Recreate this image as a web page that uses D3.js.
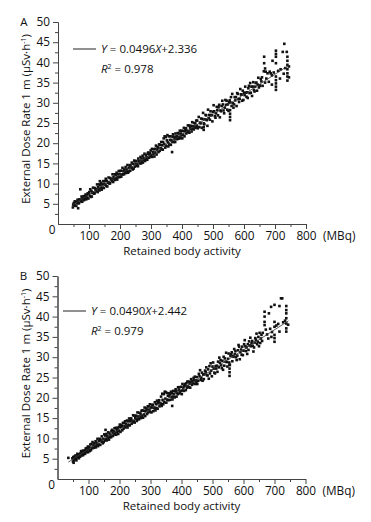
<!DOCTYPE html>
<html>
<head>
<meta charset="utf-8">
<script src="https://cdn.jsdelivr.net/npm/d3@7"></script>
<style>
body { margin: 0; background: #fff; }
text { font-family: "Open Sans", sans-serif; fill: #111; }
.axis path, .axis line { stroke: #444; }
.axis text { font-family: "Open Sans", sans-serif; font-size: 11.8px; fill: #111; }
</style>
</head>
<body>
<div class="chart"></div>
<script>
// tick values
var activityTicks = [100, 200, 300, 400, 500, 600, 700, 800];
var activityMinor = [50, 150, 250, 350, 450, 550, 650, 750];
var doseTicks = [5, 10, 15, 20, 25, 30, 35, 40, 45, 50];
var doseMinor = [2.5, 7.5, 12.5, 17.5, 22.5, 27.5, 32.5, 37.5, 42.5, 47.5];

// fitted lines [slope, intercept], R2 and drawn range
var fitA = [0.0496, 2.336];
var r2A = 0.978;
var fitRangeA = [48, 745];
var fitB = [0.0490, 2.442];
var r2B = 0.979;
var fitRangeB = [35, 745];

// panel A: [retained activity (MBq), dose rate (uSv/h)]
var pointsA = [
  [48,4.1],[49,4.8],[51,5.2],[53,4.7],[54,5.6],[56,4.5],[58,5.5],[59,4.5],[61,5.2],[63,6.0],
  [64,5.4],[66,5.1],[65,3.9],[68,5.2],[69,6.1],[71,5.9],[72,8.6],[73,6.0],[74,5.6],[76,6.8],
  [78,5.5],[79,6.4],[81,6.1],[83,6.9],[84,5.9],[86,6.8],[88,6.5],[89,7.3],[91,6.1],[93,7.1],
  [94,6.5],[96,7.6],[98,6.3],[99,7.4],[101,7.9],[103,7.0],[104,8.6],[106,6.7],[108,8.2],[109,6.8],
  [111,7.7],[113,9.0],[114,7.8],[116,7.5],[118,7.6],[119,8.9],[121,8.5],[123,8.6],[124,8.1],[126,9.8],
  [128,7.9],[129,9.1],[131,8.6],[133,9.8],[134,8.3],[136,9.6],[135,10.6],[138,8.9],[139,10.2],[141,8.5],
  [143,9.8],[144,9.0],[146,10.6],[148,8.9],[149,9.9],[151,10.6],[153,9.7],[154,11.2],[156,9.4],[158,10.7],
  [159,9.3],[161,10.2],[163,11.5],[164,10.3],[166,10.0],[168,10.1],[169,11.4],[171,11.0],[173,11.1],[174,10.6],
  [176,12.3],[178,10.4],[179,11.6],[181,11.1],[183,12.3],[184,10.9],[186,12.1],[188,11.4],[189,12.7],[191,11.0],
  [193,12.3],[194,11.6],[196,13.1],[198,11.6],[199,13.1],[201,12.3],[203,13.2],[204,11.7],[206,12.3],[208,13.9],
  [209,12.3],[211,13.1],[213,12.3],[214,13.5],[216,12.9],[218,14.1],[219,12.6],[221,13.5],[223,13.1],[224,14.6],
  [226,12.7],[228,13.9],[229,13.0],[231,14.5],[233,13.2],[234,14.6],[236,14.0],[238,15.2],[239,13.9],[241,13.5],
  [243,14.9],[244,13.7],[246,15.7],[248,14.2],[249,15.5],[251,14.8],[253,15.6],[254,14.4],[256,14.9],[258,14.3],
  [259,16.2],[261,15.6],[263,15.6],[264,15.0],[266,16.6],[268,15.0],[269,16.2],[271,15.5],[273,16.9],[274,15.2],
  [276,16.3],[278,15.9],[279,17.4],[281,15.6],[283,17.0],[284,16.1],[286,16.5],[288,15.9],[289,17.4],[291,17.7],
  [293,17.2],[294,16.4],[296,17.6],[298,16.7],[299,18.2],[301,17.1],[303,18.6],[304,16.6],[306,17.8],[308,17.3],
  [309,18.5],[311,16.7],[313,18.6],[314,17.7],[316,19.4],[318,17.2],[319,18.4],[321,19.1],[323,18.9],[324,17.8],
  [326,19.7],[328,18.1],[329,19.6],[331,18.8],[333,20.3],[334,18.5],[336,19.5],[338,18.4],[339,20.3],[341,21.2],
  [343,19.8],[344,21.7],[346,18.9],[348,21.5],[349,19.3],[351,20.7],[353,22.0],[354,20.2],[356,19.2],[358,21.7],
  [359,19.7],[361,20.8],[363,21.7],[364,19.6],[366,20.8],[368,17.8],[369,20.3],[370,21.6],[371,22.2],[373,21.6],
  [374,20.3],[376,21.0],[378,20.3],[379,22.4],[381,21.6],[383,21.7],[384,21.0],[386,22.5],[388,21.1],[389,22.4],
  [391,21.6],[393,23.1],[394,21.2],[396,22.4],[398,21.9],[399,23.1],[401,21.2],[403,23.0],[404,22.1],[406,23.8],
  [408,21.7],[409,23.0],[411,23.5],[413,23.7],[414,22.4],[416,23.1],[418,22.7],[419,24.4],[421,23.0],[423,24.4],
  [424,22.6],[426,23.9],[428,23.5],[429,24.3],[431,22.9],[433,25.2],[434,23.6],[436,24.2],[438,23.4],[439,25.0],
  [441,24.1],[443,24.9],[444,23.8],[446,25.6],[448,24.3],[449,25.6],[451,23.7],
  [454,26.5],[456,24.0],[458,25.1],[460,24.9],[462,26.1],[464,23.8],[466,26.0],[468,27.5],[470,24.9],[470,24.0],
  [470,23.3],[472,24.7],[474,25.9],[476,27.0],[478,26.9],[480,25.7],[482,24.3],[484,28.3],[486,26.2],[488,27.0],
  [490,25.8],[492,27.9],[494,26.9],[496,27.0],[498,25.4],[500,27.8],[502,29.4],[504,27.9],[506,26.7],[508,26.3],
  [510,27.4],[512,29.0],[514,28.2],[516,26.9],[518,28.9],[520,29.5],[522,26.4],[524,28.1],[526,27.9],[528,29.2],
  [530,30.5],[532,29.6],[534,28.1],[536,27.4],[538,28.8],[540,30.7],[542,29.5],[544,30.5],[546,28.3],[548,29.6],
  [550,28.0],[552,30.2],[554,30.6],[555,28.2],[555,27.3],[555,26.5],[555,25.7],[556,30.1],[558,31.4],[560,29.2],
  [562,32.2],[564,29.9],[566,28.8],[568,29.6],[570,31.4],[572,30.6],[574,31.4],[576,29.2],[578,32.4],[580,32.2],
  [582,30.9],[584,30.2],[586,31.0],[588,33.4],[590,32.1],[592,32.0],[594,30.5],[596,33.0],[598,30.7],[600,32.5],
  [602,31.9],[604,34.0],[606,32.5],[608,31.5],[610,32.6],[612,31.2],[614,33.6],[616,34.2],[618,32.4],[620,34.9],
  [622,32.5],[624,34.0],[626,31.7],[628,34.0],[630,35.1],[632,33.2],[634,32.8],[636,34.0],[638,34.9],[640,35.0],
  [642,33.0],[644,34.5],[646,36.2],[648,33.8],[650,34.3],[652,34.2],[654,35.9],[656,35.3],[658,36.3],[660,34.2],
  [665,41.4],[665,39.8],[668,38.5],[670,37.7],[676,37.3],[683,37.7],[686,37.3],[690,36.8],[692,40.4],[696,37.5],
  [703,42.9],[703,42.1],[703,41.4],[703,39.8],[703,36.5],[703,35.6],[703,34.8],[703,34.0],[703,33.2],[710,37.9],
  [718,38.3],[725,42.6],[730,44.6],[738,42.6],[740,41.4],[740,40.4],[740,39.4],[740,38.3],[740,37.3],[740,36.5],
  [740,35.5],[672,36.0],[680,35.2],[690,34.5],[668,35.0],[664,37.8],[728,37.2],[733,38.6],[745,39.0],
  [745,36.3],[716,36.0]
];

// panel B
var pointsB = [
  [35,5.2],[48,5.1],[50,4.3],[51,5.4],[52,4.0],[53,4.6],[54,5.5],[56,5.1],[58,5.8],[59,4.9],
  [61,4.6],[63,5.3],[64,6.2],[66,5.7],[68,6.1],[69,5.1],[71,5.7],[73,5.5],[74,6.3],[76,6.8],
  [78,6.9],[79,5.8],[81,6.3],[83,5.9],[84,7.0],[86,6.4],[88,7.0],[89,6.2],[91,7.5],[93,6.6],
  [94,7.6],[96,7.0],[98,8.0],[99,6.6],[101,7.4],[103,7.8],[104,6.9],[106,8.5],[108,7.1],[109,8.6],
  [111,7.7],[113,9.1],[114,7.6],[116,8.4],[118,7.7],[119,8.8],[121,8.1],[123,9.3],[124,7.8],[126,8.8],
  [128,8.4],[129,9.9],[131,8.1],[133,9.4],[134,8.5],[136,9.9],[138,8.4],[139,9.7],[141,9.3],[143,10.5],
  [144,9.2],[146,8.8],[148,9.9],[149,9.1],[151,11.0],[153,9.5],[154,10.7],[156,9.9],[155,12.1],[158,11.1],
  [159,9.5],[161,10.6],[163,10.2],[164,11.5],[166,9.7],[168,11.2],[169,10.3],[171,10.7],[173,10.3],[174,11.8],
  [176,12.1],[178,11.3],[179,10.6],[181,11.8],[183,11.0],[184,12.5],[186,11.4],[188,12.6],[189,10.9],[191,12.0],
  [193,11.6],[194,12.6],[196,11.1],[198,12.8],[199,11.9],[201,13.4],[203,11.6],[204,12.8],[206,13.3],[208,13.0],
  [209,12.0],[211,13.8],[213,12.4],[214,13.8],[216,13.0],[218,14.2],[219,12.7],[221,13.6],[223,13.2],[224,14.4],
  [226,12.7],[228,14.2],[229,13.3],[231,14.9],[233,13.2],[234,14.3],[236,14.8],[238,14.9],[239,13.6],[241,14.3],
  [243,14.0],[244,15.7],[246,14.3],[248,15.6],[249,13.9],[251,15.1],[253,14.8],[254,15.6],[256,14.3],[258,16.4],
  [259,14.8],[261,15.4],[263,14.7],[264,16.3],[266,15.4],[268,16.1],[269,15.0],[271,16.8],[273,15.6],[274,16.9],
  [276,15.1],[278,16.8],[279,15.9],[281,17.6],[283,15.5],[284,16.7],[286,17.4],[288,17.1],[289,16.0],[291,17.9],
  [293,16.4],[294,17.9],[296,17.1],[298,18.4],[299,16.6],[301,17.6],[303,16.4],[304,17.6],[306,18.3],[308,18.2],
  [309,16.7],[311,17.6],[313,17.4],[314,18.9],[316,16.9],[318,18.5],[319,17.5],[321,19.3],[323,17.3],[324,18.7],
  [326,19.1],[328,19.4],[329,17.9],[331,18.7],[333,18.5],[334,20.3],[336,18.0],[338,21.0],[339,19.5],[341,18.4],
  [343,20.9],[344,18.9],[346,21.5],[348,19.8],[349,21.4],[351,18.8],[353,21.2],[354,19.5],[356,20.5],[358,19.4],
  [359,21.1],[361,20.4],[363,21.0],[364,19.5],[366,21.5],[370,18.0],[368,20.2],[369,21.1],[371,19.6],[373,21.7],
  [374,20.3],[376,20.9],[378,20.1],[379,21.6],[381,22.1],[383,21.6],[384,20.3],[386,21.2],[388,20.9],[389,22.6],
  [391,22.0],[393,22.6],[394,21.1],[396,21.6],[398,21.7],[399,22.7],[401,20.9],[403,23.4],[404,21.8],[406,22.5],
  [408,21.7],[409,22.9],[411,23.4],[413,23.0],[414,21.9],[416,23.6],[418,22.5],[419,24.0],[421,22.8],[423,24.0],
  [424,22.6],[426,23.5],[428,22.5],[429,23.8],[431,24.6],[433,24.2],[434,23.2],[436,23.6],[438,23.6],[439,24.9],
  [441,24.3],[443,25.2],[444,23.4],[446,24.3],[448,23.8],[449,25.1],[451,23.4],
  [454,24.2],[456,25.9],[458,25.3],[460,26.8],[462,24.4],[464,24.9],[466,26.2],[468,24.2],[470,25.7],[472,24.6],
  [474,25.8],[476,26.7],[478,26.4],[480,27.5],[482,25.6],[484,25.5],[486,27.0],[488,24.7],[490,27.8],[492,26.0],
  [494,28.5],[496,26.7],[498,25.3],[500,27.7],[502,28.7],[504,27.2],[506,26.2],[508,26.0],[510,27.8],[512,27.2],
  [514,27.9],[516,26.4],[518,28.9],[520,27.5],[522,29.9],[524,28.6],[526,29.3],[528,28.0],[530,27.3],[532,29.1],
  [534,26.9],[536,30.1],[538,27.9],[540,29.7],[542,28.9],[544,31.1],[546,28.8],[548,27.7],[550,29.6],[552,30.9],
  [554,28.7],[555,28.1],[555,27.2],[555,26.3],[555,25.4],[556,28.1],[558,30.3],[560,30.7],[562,31.2],[564,29.0],
  [566,30.3],[568,30.1],[570,32.0],[572,30.8],[574,31.5],[576,30.0],[578,29.3],[580,30.4],[582,31.7],[584,33.0],
  [586,32.6],[588,29.5],[590,31.2],[592,31.9],[594,30.6],[596,32.6],[598,30.5],[600,31.6],[602,33.2],[604,34.2],
  [606,32.7],[608,31.5],[610,32.4],[612,30.8],[614,33.2],[616,31.8],[618,33.9],[620,32.9],[622,34.8],[624,32.7],
  [626,33.5],[628,34.0],[630,32.8],[632,31.4],[634,32.4],[636,33.6],[638,34.7],[640,34.3],[642,35.8],[644,33.2],
  [646,33.8],[648,35.0],[650,32.7],[652,36.0],[654,33.5],[656,34.6],[658,35.5],[660,34.0],
  [662,36.0],[668,41.2],[668,40.0],[668,38.7],[668,37.9],[672,36.8],[676,35.6],[682,40.8],[686,37.0],[689,42.4],
  [692,36.2],[700,42.9],[700,38.7],[700,37.5],[700,35.5],[700,34.7],[700,33.8],[706,37.8],[712,38.2],[716,42.6],
  [716,36.3],[721,44.5],[725,44.5],[728,38.6],[734,39.0],[738,42.6],[738,41.6],[738,40.8],[738,39.6],[738,38.3],
  [738,37.1],[738,36.3],[744,38.0],[680,34.6],[690,35.0]
];

var svg = d3.select(".chart")
    .append("svg")
    .attr("width", 371)
    .attr("height", 522);

function drawPanel(p) {
  var x = d3.scaleLinear().domain([0, 800]).range([0, p.width]);
  var y = d3.scaleLinear().domain([0, 50]).range([p.height, 0]);

  var g = svg.append("g")
      .attr("transform", "translate(" + p.left + "," + p.top + ")");

  // minor ticks first
  g.append("g")
      .classed("axis", true)
      .call(d3.axisLeft(y).tickValues(doseMinor).tickSize(3).tickFormat("").tickSizeOuter(0));
  g.append("g")
      .classed("axis", true)
      .attr("transform", "translate(0," + p.height + ")")
      .call(d3.axisBottom(x).tickValues(activityMinor).tickSize(3).tickFormat("").tickSizeOuter(0));

  g.append("g")
      .classed("axis", true)
      .call(d3.axisLeft(y).tickValues(doseTicks).tickSize(5).tickPadding(3).tickSizeOuter(0));

  g.append("g")
      .classed("axis", true)
      .attr("transform", "translate(0," + p.height + ")")
      .call(d3.axisBottom(x).tickValues(activityTicks).tickSize(5).tickPadding(3).tickSizeOuter(0));

  // shared origin label
  g.append("text")
      .attr("x", -6)
      .attr("y", p.height + 10)
      .style("font-size", "11.8px")
      .style("text-anchor", "middle")
      .text("0");

  g.append("text")
      .attr("x", x(800) + 17)
      .attr("y", p.height + 16)
      .style("font-size", "11.8px")
      .text("(MBq)");

  g.append("text")
      .attr("x", x(400))
      .attr("y", p.height + 31)
      .style("font-size", "11.5px")
      .style("text-anchor", "middle")
      .text("Retained body activity");

  var yt = g.append("text")
      .attr("transform", "translate(-28," + (p.height / 2 - 4) + ") rotate(-90)")
      .style("font-size", "11.5px")
      .style("text-anchor", "middle");
  yt.append("tspan").text("External Dose Rate 1 m (μSv·h");
  yt.append("tspan").attr("dy", -4).style("font-size", "7px").text("-1");
  yt.append("tspan").attr("dy", 4).text(")");

  g.append("text")
      .attr("x", -34)
      .attr("y", 4)
      .style("font-size", "11.5px")
      .style("text-anchor", "middle")
      .text(p.letter);

  // points
  g.selectAll(".dot")
      .data(p.points)
    .enter().append("rect")
      .attr("x", function(d) { return x(d[0]) - 1.3; })
      .attr("y", function(d) { return y(d[1]) - 1.3; })
      .attr("width", 2.6)
      .attr("height", 2.6)
      .attr("fill", "#111");

  // regression line
  g.append("line")
      .attr("x1", x(p.range[0]))
      .attr("y1", y(p.fit[0] * p.range[0] + p.fit[1]))
      .attr("x2", x(p.range[1]))
      .attr("y2", y(p.fit[0] * p.range[1] + p.fit[1]))
      .attr("stroke", "#333")
      .attr("stroke-width", 0.8);

  // legend
  g.append("line")
      .attr("x1", p.legX)
      .attr("x2", p.legX + 23)
      .attr("y1", p.legY)
      .attr("y2", p.legY)
      .attr("stroke", "#222")
      .attr("stroke-width", 1);

  var eq = g.append("text")
      .attr("x", p.legX + 28)
      .attr("y", p.legY + 4)
      .style("font-size", "11.5px");
  eq.append("tspan").style("font-style", "italic").text("Y");
  eq.append("tspan").text(" = " + p.fit[0].toFixed(4));
  eq.append("tspan").style("font-style", "italic").text("X");
  eq.append("tspan").text("+" + p.fit[1].toFixed(3));

  var r = g.append("text")
      .attr("x", p.legX + 28)
      .attr("y", p.legY + 24)
      .style("font-size", "11.5px");
  r.append("tspan").style("font-style", "italic").text("R");
  r.append("tspan").attr("dy", -4).style("font-size", "7px").text("2");
  r.append("tspan").attr("dy", 4).text(" = " + p.r2.toFixed(3));
}

drawPanel({top: 22, left: 58, width: 248, height: 202, letter: "A",
  points: pointsA, fit: fitA, r2: r2A, range: fitRangeA, legX: 15, legY: 27});
drawPanel({top: 276, left: 57.5, width: 248, height: 203, letter: "B",
  points: pointsB, fit: fitB, r2: r2B, range: fitRangeB, legX: 5.5, legY: 35});
</script>
</body>
</html>
